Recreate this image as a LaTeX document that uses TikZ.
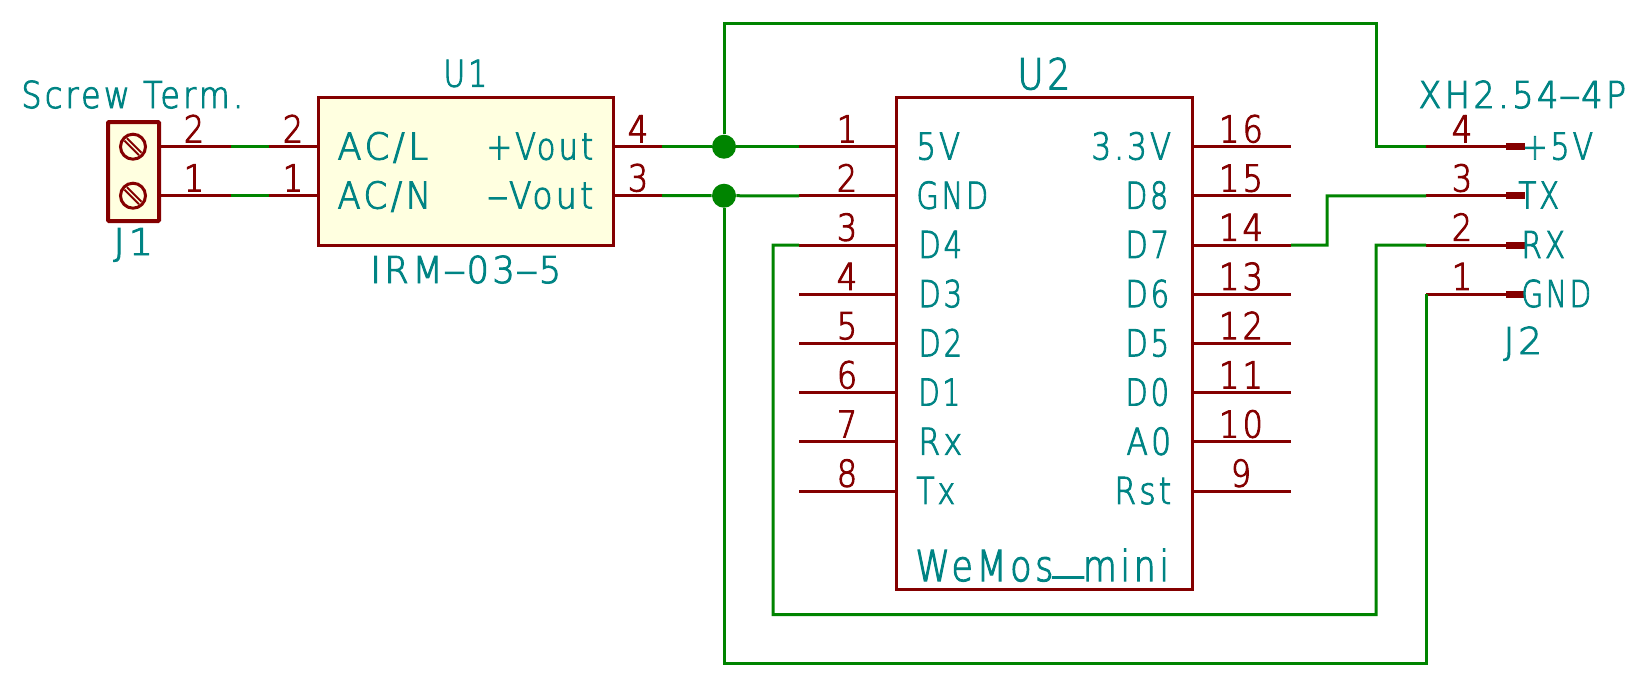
\documentclass[tikz,border=0pt]{standalone}
\usepackage{fontspec}
\setmainfont{DejaVu Sans}[UprightFont=* ExtraLight,FakeBold=2.6,FakeStretch=0.86,LetterSpace=9]
\definecolor{body}{HTML}{840000}
\definecolor{wirec}{HTML}{008400}
\definecolor{textc}{HTML}{008484}
\definecolor{fillc}{HTML}{FFFFE0}
\newcommand{\hy}{\scalebox{1.9}[1]{-}}
\newcommand{\txtw}[2]{\resizebox{\dimexpr#1pt*1/2+0.8pt\relax}{\height}{#2}}
\newcommand{\lb}[6][lab]{\node[#1,anchor=base west] (#2) at (#3-1.5,#4) {\txtw{#5}{#6}};}
\tikzset{
 x=0.5pt,y=-0.5pt,
 pinline/.style={draw=body,line width=1.5pt},
 wire/.style={draw=wirec,line width=1.5pt,line join=miter},
 partbox/.style={draw=body,line width=1.5pt,fill=fillc},
 plainbox/.style={draw=body,line width=1.5pt},
 junc/.style={circle,fill=wirec,inner sep=0pt,minimum size=12pt},
 lab/.style={text=textc,font=\fontsize{18.5}{18.5}\selectfont,inner sep=0pt,outer sep=0pt},
 big/.style={lab,font=\fontsize{21.3}{21.3}\selectfont},
 num/.style={text=body,font=\fontsize{18.5}{18.5}\selectfont,inner sep=0pt,outer sep=0pt,anchor=base},
 pad/.style={draw=body,line width=3.5pt},
}
\begin{document}
\begin{tikzpicture}
\useasboundingbox (0,0) rectangle (1643,687);
% J1
\draw[partbox,line width=2pt,rounded corners=0.5pt] (108,122) rectangle (159,221);
\foreach \yy in {146.7,195.7}{
  \draw[plainbox] (133,\yy) circle (12.5);
  \draw[draw=body,line width=1pt] (124.5,\yy-6) -- (139,\yy+8.5);
  \draw[draw=body,line width=1pt] (127,\yy-8.5) -- (141.5,\yy+6);
}
% U1, U2
\draw[partbox] (318,97.3) rectangle (613,245);
\draw[plainbox] (896,97.3) rectangle (1192,589);
% pin ends
\coordinate (j1p2) at (159,146.7); \coordinate (j1e2) at (231,146.7);
\coordinate (j1p1) at (159,195.7); \coordinate (j1e1) at (231,195.7);
\coordinate (u1p2) at (318,146.7); \coordinate (u1e2) at (269,146.7);
\coordinate (u1p1) at (318,195.7); \coordinate (u1e1) at (269,195.7);
\coordinate (u1p4) at (613,146.7); \coordinate (u1e4) at (662,146.7);
\coordinate (u1p3) at (613,195.7); \coordinate (u1e3) at (662,195.7);
\foreach \n [evaluate=\n as \yy using 146.7+49.2*(\n-1)] in {1,...,8}{
  \coordinate (ul\n) at (896,\yy); \coordinate (ue\n) at (799,\yy);
  \draw[pinline] (ul\n) -- (ue\n);
}
\foreach \n [evaluate=\n as \yy using 146.7+49.2*(16-\n)] in {9,...,16}{
  \coordinate (ur\n) at (1192,\yy); \coordinate (ue\n) at (1291,\yy);
  \draw[pinline] (ur\n) -- (ue\n);
}
\coordinate (jl4) at (1426,146.7); \coordinate (jp4) at (1525,146.7); \coordinate (jq4) at (1506,146.7);
\coordinate (jl3) at (1426,195.9); \coordinate (jp3) at (1525,195.9); \coordinate (jq3) at (1506,195.9);
\coordinate (jl2) at (1426,245.1); \coordinate (jp2) at (1525,245.1); \coordinate (jq2) at (1506,245.1);
\coordinate (jl1) at (1426,294.3); \coordinate (jp1) at (1525,294.3); \coordinate (jq1) at (1506,294.3);
\foreach \n in {1,...,4}{
  \draw[pinline] (jl\n) -- (jq\n);
  \draw[pad] (jq\n) -- (jp\n);
}
\draw[pinline] (j1p2) -- (j1e2);
\draw[pinline] (j1p1) -- (j1e1);
\draw[pinline] (u1p2) -- (u1e2);
\draw[pinline] (u1p1) -- (u1e1);
\draw[pinline] (u1p4) -- (u1e4);
\draw[pinline] (u1p3) -- (u1e3);
% junctions
\node[junc] (ja) at (724,146.7) {};
\node[junc] (jb) at (724,195.7) {};
% wires
\draw[wire] (j1e2) -- (u1e2);
\draw[wire] (j1e1) -- (u1e1);
\draw[wire] (u1e4) -- (ja) -- (ue1);
\draw[wire] (u1e3) -- (jb) -- (ue2);
\coordinate (ta) at (724,23); \coordinate (tb) at (1376,23); \coordinate (tc) at (1376,146.7);
\draw[wire] (ja) -- (ta) -- (tb) -- (tc) -- (jl4);
\coordinate (da) at (773,245.1); \coordinate (db) at (773,614.5); \coordinate (dc) at (1376,614.5); \coordinate (dd) at (1376,245.1);
\draw[wire] (ue3) -- (da) -- (db) -- (dc) -- (dd) -- (jl2);
\coordinate (ga) at (724,663.5); \coordinate (gb) at (1426,663.5);
\draw[wire] (jb) -- (ga) -- (gb) -- (jl1);
\coordinate (ha) at (1327,245.1); \coordinate (hb) at (1327,195.9);
\draw[wire] (ue14) -- (ha) -- (hb) -- (jl3);
% titles
\lb{tj1a}{23}{108}{220}{Screw Term.}
\lb{tj1b}{115}{255}{38}{J1}
\lb{tu1a}{445}{86.7}{42}{U1}
\lb{tu1b}{372}{283}{189}{IRM\hy03\hy5}
\lb[big]{tu2a}{1019}{89.3}{51}{U2}
\lb[big]{tu2b}{917}{581}{252}{WeMos\raisebox{0.3em}{\scalebox{1.7}[1]{\_}}mini}
\lb{tj2a}{1420}{108}{206}{XH2.54\hy4P}
\lb{tj2b}{1505}{354}{37}{J2}
% U1 labels
\lb{l1}{339}{159.5}{89}{AC/L}
\lb{l2}{339}{208.5}{92}{AC/N}
\lb{l3}{488}{159.5}{105}{+Vout}
\lb{l4}{488}{208.5}{105}{\hy Vout}
% U2 labels
\foreach \n/\t/\w/\xx [evaluate=\n as \yy using 159.5+49.2*(\n-1)] in {1/5V/42/918,2/GND/70/918,3/D4/42/920,4/D3/42/920,5/D2/42/920,6/D1/40/920,7/Rx/42/920,8/Tx/37/918}{
  \lb{a\n}{\xx}{\yy}{\w}{\t}
}
\foreach \n/\t/\w/\xx [evaluate=\n as \yy using 159.5+49.2*(\n-1)] in {1/3.3V/78/1093,2/D8/41/1127,3/D7/42/1127,4/D6/42/1127,5/D5/42/1127,6/D0/42/1127,7/A0/43/1128,8/Rst/55/1116}{
  \lb{b\n}{\xx}{\yy}{\w}{\t}
}
% J2 labels
\lb{c1}{1524}{159.5}{69}{+5V}
\lb{c2}{1520}{208.5}{39}{TX}
\lb{c3}{1523}{258}{42}{RX}
\lb{c4}{1523}{307}{68}{GND}
% pin numbers
\node[num] (n1) at (194,142.3) {2};
\node[num] (n2) at (194,191.3) {1};
\node[num] (n3) at (293,142.3) {2};
\node[num] (n4) at (293,191.3) {1};
\node[num] (n5) at (638,142.3) {4};
\node[num] (n6) at (638,191.3) {3};
\foreach \n [evaluate=\n as \yy using 142.3+49.2*(\n-1)] in {1,...,8}{
  \node[num] (p\n) at (847,\yy) {\n};
}
\foreach \n [evaluate=\n as \yy using 142.3+49.2*(16-\n)] in {9,...,16}{
  \node[num] (p\n) at (1241,\yy) {\n};
}
\node[num] (q4) at (1462,142.3) {4};
\node[num] (q3) at (1462,191.5) {3};
\node[num] (q2) at (1462,240.7) {2};
\node[num] (q1) at (1462,289.9) {1};
\end{tikzpicture}
\end{document}
